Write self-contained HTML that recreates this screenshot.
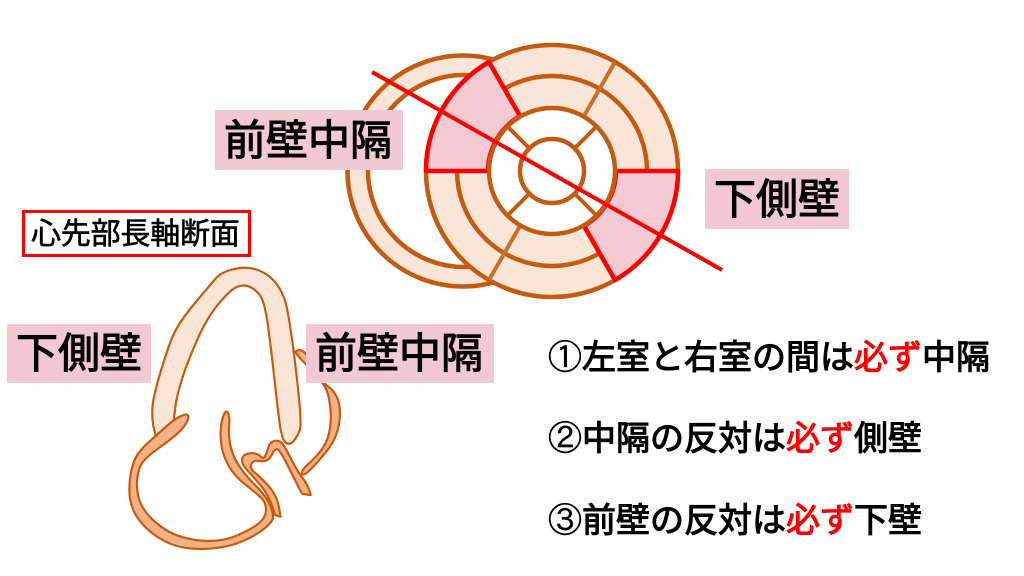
<!DOCTYPE html>
<html lang="ja"><head><meta charset="utf-8"><style>
html,body{margin:0;padding:0;background:#fff;width:1024px;height:576px;overflow:hidden}
svg{display:block}
text{font-family:"Liberation Sans","Noto Sans CJK JP",sans-serif;font-weight:400;fill:#000;stroke:#000;stroke-width:1.100}
.r{fill:#f00;stroke:#f00}
.c{font-family:"IPAGothic","Noto Sans CJK JP",sans-serif;stroke-width:.2}
</style></head><body>
<svg width="1024" height="576" viewBox="0 0 1024 576" xmlns="http://www.w3.org/2000/svg">
<rect width="1024" height="576" fill="#fff"/>
<!-- left circle -->
<circle cx="463" cy="171" r="115.500" fill="#fbe5d6" stroke="#c55a11" stroke-width="4.500"/>
<circle cx="464" cy="171" r="96" fill="#fff" stroke="#c55a11" stroke-width="4.500"/>
<!-- main -->
<circle cx="552" cy="171" r="126" fill="#fbe5d6" stroke="#c55a11" stroke-width="4.500"/>
<circle cx="552" cy="171" r="95" fill="#fbe5d6" stroke="#c55a11" stroke-width="4.500"/>
<g stroke="#c96f2c" stroke-width="4">
<line x1="615" y1="62" x2="584" y2="116"/>
<line x1="489" y1="280" x2="520" y2="226"/>
</g>
<path d="M426 171A126 126 0 0 1 489 62L520 116A64 64 0 0 0 488 171Z" fill="#f4c9d2" stroke="#f00" stroke-width="4.500" stroke-linejoin="round"/>
<path d="M678 171A126 126 0 0 1 615 280L584 226A64 64 0 0 0 616 171Z" fill="#f4c9d2" stroke="#f00" stroke-width="4.500" stroke-linejoin="round"/>
<circle cx="552" cy="171" r="63" fill="#fff" stroke="#c55a11" stroke-width="4.500"/>
<g stroke="#c55a11" stroke-width="4">
<line x1="507" y1="126" x2="529" y2="148"/>
<line x1="597" y1="126" x2="575" y2="148"/>
<line x1="507" y1="216" x2="529" y2="194"/>
<line x1="597" y1="216" x2="575" y2="194"/>
</g>
<circle cx="552" cy="171" r="32" fill="#fff" stroke="#c55a11" stroke-width="4.500"/>
<line x1="372" y1="72" x2="722" y2="270" stroke="#f00" stroke-width="4"/>
<!-- long-axis -->
<g transform="translate(110 260) scale(.33333)" stroke="#c55a11" stroke-width="6.500" stroke-linejoin="round">
<path fill="#f4b183" d="M555,275L567,270Q580,270 590,285Q600,300 620,335Q640,370 655,380Q670,390 680,410Q690,430 690,460Q690,490 680,520Q670,550 645,580Q620,610 600,630Q580,650 576,641Q572,632 596,611Q620,590 637.500,565Q655,540 660,505Q665,470 660,435Q655,400 647.500,385Q640,370 615,342.500Q590,315 572.500,297.500Z"/>
<path fill="#fbe5d6" d="M130,497.500Q125,470 127.500,440Q130,410 147.500,350Q165,290 182.500,242.500Q200,195 250,135Q300,75 317.500,55Q335,35 375,26.500Q415,18 447.500,31.500Q480,45 500,72.500Q520,100 527.500,130Q535,160 545,230Q555,300 565,395Q575,490 570,507.500Q565,525 552.500,541Q540,557 527.500,548.500Q515,540 507.500,480Q500,420 492.500,350Q485,280 475,205Q465,130 452.500,110Q440,90 420,81Q400,72 380,81Q360,90 325,132.500Q290,175 262.500,237.500Q235,300 220,345Q205,390 197.500,430L190,490L140,540Z"/>
<path fill="#f4b183" d="M207.500,471Q225,462 230,463.500Q235,465 235,472.500Q235,480 225,495Q215,510 197.500,525Q180,540 145,565Q110,590 97.500,607.500Q85,625 81.500,657.500Q78,690 89,722.500Q100,755 137.500,787.500Q175,820 217.500,831.500Q260,843 297.500,843Q335,843 367.500,831.500Q400,820 432.500,800Q465,780 467.500,755Q470,730 455,715Q440,700 407.500,675Q375,650 357.500,620Q340,590 335,560Q330,530 332.500,505Q335,480 341.500,464Q348,448 354,459Q360,470 357.500,495Q355,520 360,550Q365,580 382.500,610Q400,640 435,675Q470,710 480,735Q490,760 489,772.500Q488,785 464,805Q440,825 400,842.500Q360,860 310,865Q260,870 220,862.500Q180,855 145,832.500Q110,810 87.500,780Q65,750 60,715Q55,680 62.500,640Q70,600 85,580Q100,560 117.500,545Q135,530 162.500,505Q190,480 207.500,471Z"/>
<path fill="#f4b183" d="M396.500,596Q400,582 420,580Q440,578 450,588Q460,598 465,589Q470,580 475,562.500Q480,545 495,542.500Q510,540 520,555Q530,570 545,600Q560,630 575,650Q590,670 598,690L602,705L578,702Q575,700 567.500,685Q560,670 535,620Q510,570 502.500,567.500Q495,565 486.500,582.500Q478,600 466.500,602.500Q455,605 442.500,602.500Q430,600 424,612.500Q418,625 434,637.500Q450,650 475,677.500Q500,705 506,737.500L512,770L495,765Q480,710 455,680Q430,650 411.500,630Q393,610 396.500,596Z"/>
</g>
<!-- labels -->
<rect x="215" y="110" width="188" height="60" fill="#f2c9d2"/>
<text x="224" y="155" font-size="42">前壁中隔</text>
<rect x="705" y="169" width="144" height="60" fill="#f2c9d2"/>
<text x="714" y="214" font-size="42">下側壁</text>
<rect x="7" y="324" width="144" height="59" fill="#f2c9d2"/>
<text x="16" y="368" font-size="42">下側壁</text>
<rect x="306" y="324" width="188" height="59" fill="#f2c9d2"/>
<text x="315" y="368" font-size="42">前壁中隔</text>
<rect x="23.500" y="211.500" width="226" height="44" fill="#fff" stroke="#f00" stroke-width="3"/>
<text x="31" y="244" font-size="30" style="stroke-width:.6" letter-spacing="-.2">心先部長軸断面</text>
<text x="548" y="369" font-size="34"><tspan class="c">①</tspan>左室と右室の間は<tspan class="r">必ず</tspan>中隔</text>
<text x="548" y="450" font-size="34"><tspan class="c">②</tspan>中隔の反対は<tspan class="r">必ず</tspan>側壁</text>
<text x="548" y="532" font-size="34"><tspan class="c">③</tspan>前壁の反対は<tspan class="r">必ず</tspan>下壁</text>
</svg>
</body></html>
